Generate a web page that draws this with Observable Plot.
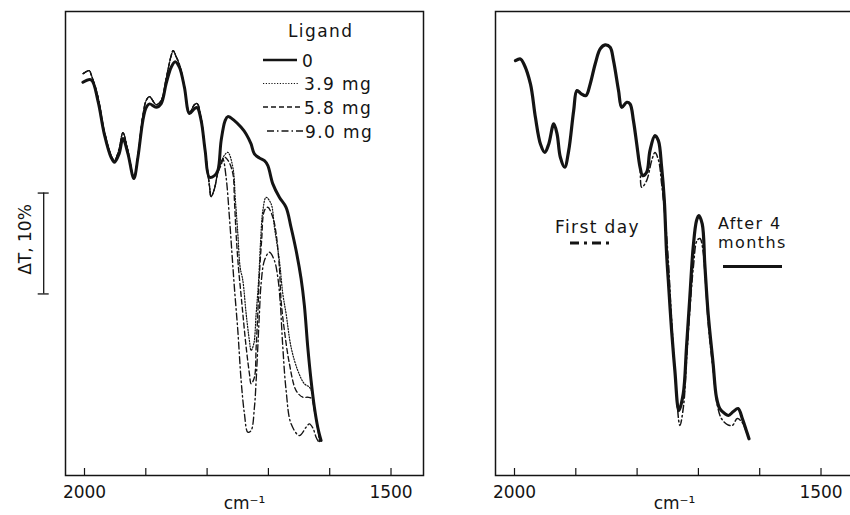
<!DOCTYPE html>
<html><head><meta charset="utf-8">
<script src="https://cdn.jsdelivr.net/npm/d3@7"></script>
<script src="https://cdn.jsdelivr.net/npm/@observablehq/plot@0.6"></script>
<style>
body{margin:0;background:#fff;}
#wrap{position:relative;width:850px;height:515px;overflow:hidden;font-family:"DejaVu Sans",sans-serif;color:#111;}
#wrap svg.overlay{position:absolute;left:0;top:0;pointer-events:none;}
</style></head><body><div id="wrap"></div>
<script>
// ---- data (wavenumber cm^-1, transmittance %) ----
const panels = ["ligand", "ageing"];
const tickValues = [2000, 1900, 1800, 1700, 1600, 1500];
const labelTicks = [2000, 1500];
const xDomain = [2031, 1447];
const yDomain = [0, 46];
const scaleBar = [18, 28];          // the "ΔT, 10%" bar
const ligandLabels = ["0", "3.9 mg", "5.8 mg", "9.0 mg"];
const ageLabels = ["First day", "After 4", "months"];

// left panel: Ligand 0 (solid)
const ligand0 = [[2002.6,38.98],[1989.1,39.22],[1978.2,37.17],[1967.9,33.9],[1956.5,31.52],[1951.1,31.05],[1943.4,31.91],[1937.4,33.4],[1929.2,31.91],[1919.5,29.44],[1912.9,31.52],[1904.8,35.18],[1899.4,36.47],[1894.0,36.84],[1883.1,36.5],[1874.9,36.87],[1866.8,38.85],[1858.6,40.47],[1852.1,41.03],[1845.1,40.47],[1837.0,38.48],[1828.8,35.88],[1820.6,36.37],[1816.2,36.47],[1809.7,35.18],[1803.2,32.21],[1796.2,29.56],[1788.0,29.73],[1782.5,30.23],[1777.1,33.2],[1770.6,35.18],[1766.2,35.58],[1755.5,35.18],[1744.5,34.52],[1736.4,33.86],[1728.3,32.87],[1722.9,31.88],[1714.7,31.48],[1706.5,31.22],[1700.9,30.72],[1692.8,28.91],[1682.1,27.58],[1671.2,26.59],[1663.1,24.61],[1654.8,22.3],[1646.7,19.52],[1641.3,16.85],[1635.8,12.72],[1630.4,9.42],[1625.0,6.77],[1619.5,4.79],[1614.1,3.47]];
// shared start of the three ligand traces
const ligandCommon = [[2002.1,39.84],[1992.3,40.14],[1989.1,39.74],[1978.2,37.56],[1967.9,34.19],[1956.5,31.71],[1951.1,31.22],[1943.4,32.41],[1937.4,33.99],[1929.2,32.21],[1919.5,29.53],[1912.9,31.71],[1904.8,35.68],[1899.4,37.17],[1894.0,37.56],[1883.1,36.77],[1874.9,37.17],[1866.8,39.35],[1858.6,41.63],[1855.4,42.12],[1850.5,41.53],[1845.1,40.73],[1837.0,38.55],[1828.8,35.98],[1820.6,36.77],[1816.2,36.87],[1809.7,35.38],[1803.2,32.21],[1796.2,28.74],[1793.5,27.65],[1788.0,28.44],[1782.5,30.03]];
const ligand39Tail = [[1777.6,30.92],[1772.2,31.71],[1766.2,32.04],[1758,30.56],[1753.8,27.25],[1749.9,23.98],[1746.1,20.64],[1741.7,19.33],[1736.3,16.03],[1731,13.38],[1728.2,12.39],[1723.8,13.08],[1720,16.03],[1716,19.33],[1712.7,23.29],[1709.1,26.26],[1703.7,27.58],[1695.6,26.93],[1690.2,24.61],[1682.1,21.31],[1676.5,18.01],[1671.1,16.03],[1663,12.72],[1652.1,10.41],[1641.3,9.09],[1633.1,8.75],[1628.7,8.23],[1625,6.77],[1619.5,4.79],[1616.8,3.47]];
const ligand58Tail = [[1777.6,30.72],[1771.7,31.55],[1765.7,31.22],[1758,29.93],[1755.4,27.25],[1752.7,23.98],[1748.9,20.64],[1745.3,18.33],[1741.7,16.03],[1736.3,12.72],[1731,10.11],[1728.2,9.09],[1722.8,9.74],[1720,12.72],[1717.3,16.03],[1715.2,19.33],[1711.1,23.29],[1706.5,26.26],[1701,26.59],[1692.8,25.6],[1687.4,23.98],[1682.1,20.64],[1679.3,17.34],[1673.9,14.37],[1665.7,11.07],[1654.8,8.42],[1643.9,7.76],[1635.7,7.76],[1629.6,7.63],[1625,6.44],[1619.5,4.66],[1616.8,3.37]];
const ligand90Tail = [[1777.6,31.02],[1774.3,31.39],[1769,29.56],[1763.6,25.6],[1759.2,21.8],[1755.1,18.33],[1749.9,14.37],[1744.5,9.42],[1739.1,6.11],[1733.6,4.29],[1728.2,4.46],[1722.8,6.77],[1720,9.42],[1717.3,12.72],[1714.7,16.03],[1711.9,19.03],[1706.5,21.31],[1698.4,22.13],[1690.2,21.31],[1684.7,19.65],[1680.9,17.34],[1676.5,12.72],[1671.1,8.42],[1663,5.12],[1649.4,3.96],[1638.5,4.79],[1633.1,5.12],[1627.1,4.66],[1622.2,3.8],[1616.8,3.17]];

// right panel: ageing
const ageCommon = [[1998.4,41.13],[1990.3,41.3],[1984.7,40.8],[1974,38.82],[1965.9,35.51],[1957.7,32.87],[1950.6,32.04],[1944.1,32.87],[1936,34.86],[1930.6,33.87],[1925.2,31.55],[1918.1,30.56],[1911.6,32.21],[1903.5,36.17],[1898.1,38.16],[1891.1,37.83],[1883.5,37.66],[1876.5,38.82],[1868.4,40.8],[1860.2,42.29],[1852.1,42.69],[1844,42.45],[1838.5,41.13],[1830.3,38.16],[1825,36.5],[1816.9,37.0],[1811.5,36.84],[1806,35.18],[1800.6,32.87],[1795.2,30.56]];
const afterFourTail = [[1790.9,29.73],[1784.4,30.06],[1779,32.21],[1770.9,33.7],[1765.3,33.2],[1760,30.56],[1755.6,27.25],[1751.9,22.0],[1749.1,19.33],[1743.7,14.37],[1738.4,10.41],[1731.9,6.44],[1724.7,8.1],[1719.4,12.72],[1714,17.67],[1708.5,22.63],[1703.1,25.27],[1699.4,25.77],[1693.8,24.95],[1689.6,20.98],[1684.1,16.03],[1676,11.07],[1670.6,7.76],[1665.2,6.64],[1657.1,6.14],[1651.1,5.95],[1643,6.34],[1635.3,6.64],[1628.4,5.65],[1621.9,4.46],[1617.5,3.64]];
const firstDayTail = [[1792.5,28.57],[1784.4,29.24],[1776.2,31.22],[1770.9,32.01],[1764.9,31.22],[1760,28.94],[1754.6,25.77],[1749.1,21.31],[1743.7,15.36],[1737.2,9.42],[1730.2,4.96],[1724.2,6.94],[1719.4,11.4],[1714,16.35],[1708,20.81],[1702.3,23.29],[1697.4,23.49],[1692.5,22.3],[1688.5,19.33],[1683.6,14.87],[1675.5,10.21],[1669,6.94],[1662.5,5.65],[1652.7,5.05],[1644.6,4.96],[1636.5,5.65],[1628.4,5.25],[1621.9,4.36],[1617.5,3.57]];

// ---- build table ----
const rows = (panel, series, pts) => pts.map(([w, T]) => ({panel, series, w, T}));
const table = [
  ...rows("ligand", "0", ligand0),
  ...rows("ligand", "3.9", ligandCommon.concat(ligand39Tail)),
  ...rows("ligand", "5.8", ligandCommon.concat(ligand58Tail)),
  ...rows("ligand", "9.0", ligandCommon.concat(ligand90Tail)),
  ...rows("ageing", "first", ageCommon.concat(firstDayTail)),
  ...rows("ageing", "after", ageCommon.concat(afterFourTail))
];
const ink = "#141414";
const styles = {
  "9.0":  {strokeWidth: 1.35, strokeDasharray: "7,3,1.5,3"},
  "5.8":  {strokeWidth: 1.35, strokeDasharray: "5,3"},
  "3.9":  {strokeWidth: 1.2, strokeDasharray: "1.2,1.6"},
  "0":    {strokeWidth: 3},
  "first":{strokeWidth: 1.5, strokeDasharray: "7,3,1.5,3"},
  "after":{strokeWidth: 3.2}
};
const lineMarks = Object.keys(styles).map(s => Plot.line(table.filter(d => d.series === s), {
  x: "w", y: "T", fx: "panel", curve: "catmull-rom", stroke: ink,
  strokeLinejoin: "round", strokeLinecap: "round", ...styles[s]
}));

const chart = Plot.plot({
  width: 850, height: 515,
  marginLeft: 64.5, marginRight: -3, marginTop: 11, marginBottom: 40,
  style: {fontFamily: "'DejaVu Sans', sans-serif", fontSize: "17px", color: ink, background: "white", overflow: "visible"},
  fx: {domain: panels, paddingInner: 0.16734, paddingOuter: 0, axis: null, label: null},
  x: {domain: xDomain, label: null},
  y: {domain: yDomain, axis: null},
  marks: [
    ...lineMarks,
    Plot.frame({stroke: ink, strokeWidth: 1.5}),
    Plot.axisX({ticks: tickValues, tickSize: -7, tickFormat: () => "", stroke: ink, strokeWidth: 1.2, label: null}),
    Plot.axisX({ticks: labelTicks, tickSize: 0, tickPadding: 10, tickFormat: d => String(d), fill: ink, label: null, fontSize: 17, letterSpacing: "0.8px"}),
    Plot.text(panels, {fx: d => d, text: () => "cm⁻¹", frameAnchor: "bottom", textAnchor: "middle", dy: 33, fontSize: 17, fill: ink}),
    Plot.text([panels[0]], {fx: d => d, text: () => "ΔT, 10%", frameAnchor: "left", textAnchor: "middle", rotate: -90, dx: -39.5, dy: -4, fontSize: 17, fill: ink}),
    Plot.ruleX([panels[0]], {fx: d => d, x: () => xDomain[0], y1: () => scaleBar[0], y2: () => scaleBar[1], dx: -21.8, stroke: ink, strokeWidth: 1.3}),
    Plot.ruleY(scaleBar, {fx: () => panels[0], y: d => d, x1: () => xDomain[0], x2: () => xDomain[0], dx: -21.8, insetLeft: -5.5, insetRight: -5.5, stroke: ink, strokeWidth: 1.3})
  ]
});
const wrap = document.getElementById("wrap");
wrap.appendChild(chart);

// ---- legends (overlay) ----
const ov = d3.select(wrap).append("svg").attr("class", "overlay").attr("width", 850).attr("height", 515)
  .style("font-family", "'DejaVu Sans', sans-serif").style("font-size", "17px").style("letter-spacing", "1.4px");
ov.append("text").attr("x", 288).attr("y", 36.5).attr("fill", ink).text("Ligand");
const legRows = [
  {label: ligandLabels[0], y: 66.5, x1: 263, x2: 297, tx: 302, sw: 2.6, da: null},
  {label: ligandLabels[1], y: 90,   x1: 263, x2: 298, tx: 304, sw: 1.1, da: "1.2,1.6"},
  {label: ligandLabels[2], y: 113.5,x1: 263, x2: 303, tx: 304, sw: 1.3, da: "5,3"},
  {label: ligandLabels[3], y: 137.5,x1: 267, x2: 303, tx: 305, sw: 1.3, da: "7,3,1.5,3"}
];
for (const r of legRows) {
  const ln = ov.append("line").attr("x1", r.x1).attr("x2", r.x2).attr("y1", r.y - 6.5).attr("y2", r.y - 6.5)
    .attr("stroke", ink).attr("stroke-width", r.sw);
  if (r.da) ln.attr("stroke-dasharray", r.da);
  ov.append("text").attr("x", r.tx).attr("y", r.y).attr("fill", ink).text(r.label);
}
ov.append("text").attr("x", 555).attr("y", 232.5).attr("fill", ink).text(ageLabels[0]);
ov.append("line").attr("x1", 570).attr("x2", 613).attr("y1", 243).attr("y2", 243).attr("stroke", ink)
  .attr("stroke-width", 3).attr("stroke-dasharray", "9,5,3,5");
ov.append("text").attr("x", 718).attr("y", 228.5).attr("fill", ink).style("font-size", "16px").text(ageLabels[1]);
ov.append("text").attr("x", 718).attr("y", 247.5).attr("fill", ink).style("font-size", "16px").text(ageLabels[2]);
ov.append("line").attr("x1", 723).attr("x2", 782).attr("y1", 266.5).attr("y2", 266.5).attr("stroke", ink).attr("stroke-width", 3);
</script></body></html>
